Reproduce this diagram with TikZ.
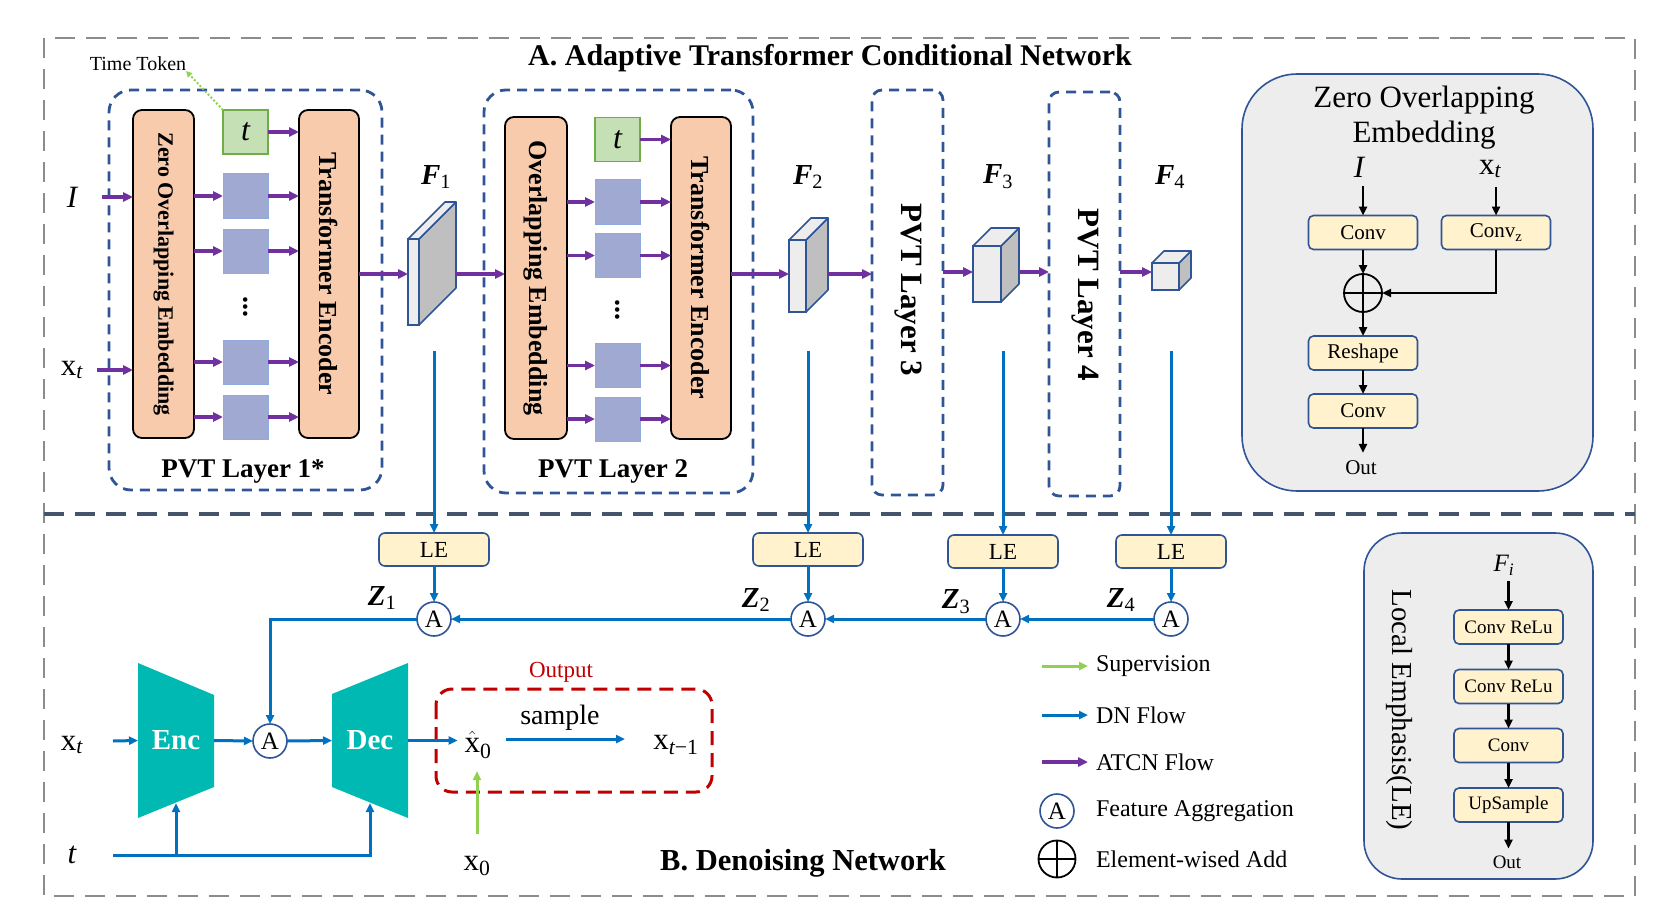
\documentclass[tikz,border=0pt]{standalone}
\usepackage{fontspec}
\setmainfont{Liberation Serif}
\usepackage{graphicx}
\usetikzlibrary{arrows.meta,calc}
\pgfdeclarelayer{bg}
\pgfsetlayers{bg,main}
\definecolor{purp}{HTML}{7030A0}
\definecolor{dnblue}{HTML}{0070C0}
\definecolor{bord}{HTML}{2F5597}
\definecolor{orng}{HTML}{F8CBAD}
\definecolor{sqc}{HTML}{A0A9D2}
\definecolor{sqb}{HTML}{8FAADC}
\definecolor{tgreen}{HTML}{C5E0B4}
\definecolor{tgb}{HTML}{70AD47}
\definecolor{yel}{HTML}{FFF2CC}
\definecolor{grayc}{HTML}{EDEDED}
\definecolor{tealc}{HTML}{00B9B2}
\definecolor{supg}{HTML}{92D050}
\definecolor{redc}{HTML}{C00000}
\definecolor{sepc}{HTML}{44546A}
\definecolor{outc}{HTML}{8C8C8C}
\definecolor{sidec}{HTML}{BFBFBF}
\definecolor{frontc}{HTML}{EDEDED}
\newcommand\fsz[2]{\fontsize{#1}{#2}\selectfont}
\newcommand\xt{x\textsubscript{\itshape t}}
\newcommand\mkcube[6]{%
 \node[cubef, minimum width={#4-#2}, minimum height={#5-#3}] (#1) at ({(#2+#4)/2},{(#3+#5)/2}) {};
 \filldraw[cubeside] (#1.north east) -- ++(#6,-#6) -- ++(0,{#5-#3}) -- (#1.south east) -- cycle;
 \filldraw[cubetop] (#1.north west) -- ++(#6,-#6) -- ++({#4-#2},0) -- (#1.north east) -- cycle;
 \coordinate (#1r) at ($(#1.east)+(#6,0)$);
}
\begin{document}
\begin{tikzpicture}[x=1pt,y=-1pt,
 every node/.style={inner sep=0pt, outer sep=0pt},
 purpA/.style={draw=purp, line width=3.3pt, -{Triangle[length=10pt,width=9pt]}},
 dnA/.style={draw=dnblue, line width=3pt, -{Triangle[length=9pt,width=8pt]}},
 blkA/.style={draw=black, line width=2.6pt, -{Triangle[length=9pt,width=8pt]}},
 supA/.style={draw=supg, line width=3pt, -{Triangle[length=9pt,width=8pt]}},
 pvtbox/.style={draw=bord, dash pattern=on 10pt off 7pt, line width=2.8pt, rounded corners=22pt},
 orbox/.style={draw=black, fill=orng, line width=1.8pt, rounded corners=9pt, font=\bfseries\fsz{26}{30}},
 sqbox/.style={draw=sqb, fill=sqc, line width=1pt, minimum width=45, minimum height=44},
 tbox/.style={draw=tgb, fill=tgreen, line width=1.2pt, minimum width=45, minimum height=44, font=\itshape\fsz{32}{34}},
 cubef/.style={draw=bord, fill=frontc, line width=1.6pt},
 cubeside/.style={draw=bord, fill=sidec, line width=1.6pt, line join=round},
 cubetop/.style={draw=bord, fill=frontc, line width=1.6pt, line join=round},
 lebox/.style={draw=bord, fill=yel, line width=1.6pt, rounded corners=6pt, minimum width=110, minimum height=33, font=\fsz{23}{26}},
 aggr/.style={circle, draw=bord, fill=white, line width=1.6pt, minimum size=34, font=\fsz{25}{26}},
 oplus/.style={circle, draw=black, line width=1.8pt, minimum size=37,
   path picture={\draw[line width=1.8pt] (path picture bounding box.north) -- (path picture bounding box.south)
     (path picture bounding box.west) -- (path picture bounding box.east);}},
 ybox/.style={draw=bord, fill=yel, line width=1.6pt, rounded corners=5pt, minimum width=109, minimum height=34, font=\fsz{21}{24}},
 lybox/.style={draw=bord, fill=yel, line width=1.6pt, rounded corners=5pt, minimum width=109, minimum height=34, font=\fsz{19}{23}},
 gbox/.style={draw=bord, fill=grayc, line width=1.6pt},
 lbl/.style={font=\fsz{31}{34}},
 flab/.style={font=\fsz{29}{32}},
 legtxt/.style={font=\fsz{24}{28}, anchor=west},
 trap/.style={minimum width=76, minimum height=155, font=\bfseries\fsz{29}{30}, text=white}
]
\useasboundingbox (0,0) rectangle (1656,920);

% frames
\draw[outc, line width=2.2pt, dash pattern=on 20pt off 11pt] (44,38) rectangle (1635,896);
\draw[sepc, line width=3.2pt, dash pattern=on 20pt off 11pt] (44,514) -- (1635,514);

\node[font=\bfseries\fsz{30}{34}] (titleA) at (830,58) {A. Adaptive Transformer Conditional Network};
\node[font=\bfseries\fsz{30.5}{34}] (titleB) at (803,863) {B. Denoising Network};

% ---------- PVT layer 1
\node[pvtbox, minimum width=273, minimum height=400] (pvt1) at (245.5,290) {};
\node[font=\bfseries\fsz{27}{30}] (pvt1l) at (243,471) {PVT Layer 1*};
\node[orbox, minimum width=61, minimum height=328, font=\bfseries\fsz{22}{24}] (zoe1) at (163.5,274) {\rotatebox{-90}{Zero Overlapping Embedding}};
\node[tbox] (t1) at (245.5,132) {t};
\node[sqbox] (s11) at (245.5,196) {};
\node[sqbox] (s12) at (245.5,251) {};
\node[sqbox] (s13) at (245.5,362) {};
\node[sqbox] (s14) at (245.5,417) {};
\node[font=\bfseries\fsz{28}{30}] (d1) at (245.5,307) {\rotatebox{90}{...}};
\node[orbox, minimum width=60, minimum height=328] (te1) at (329,274) {\rotatebox{-90}{Transformer Encoder}};

\node[lbl] (il) at (72,197) {\itshape I};
\node[lbl] (xl) at (72,370) {\xt};
\coordinate (iin) at (102,197);
\coordinate (xin) at (97,370);
\node[font=\fsz{20}{24}] (ttok) at (138,64) {Time Token};
\draw[supg, line width=2pt, dotted, -{Triangle[length=6pt,width=6pt]}] (t1.north west) -- (ttok.south east);

\draw[purpA] (iin) -- (iin -| zoe1.west);
\draw[purpA] (xin) -- (xin -| zoe1.west);
\draw[purpA] (t1.east) -- (t1.east -| te1.west);
\foreach \i in {1,2,3,4}{
  \draw[purpA] (zoe1.east |- s1\i.west) -- (s1\i.west);
  \draw[purpA] (s1\i.east) -- (s1\i.east -| te1.west);
}

% ---------- PVT layer 2
\node[pvtbox, minimum width=269, minimum height=403] (pvt2) at (618.5,291.5) {};
\node[font=\bfseries\fsz{27}{30}] (pvt2l) at (613,471) {PVT Layer 2};
\node[orbox, minimum width=62, minimum height=322] (oe2) at (536,278) {\rotatebox{-90}{Overlapping Embedding}};
\node[tbox] (t2) at (617.5,139.5) {t};
\node[sqbox] (s21) at (617.5,202) {};
\node[sqbox] (s22) at (617.5,255.5) {};
\node[sqbox] (s23) at (617.5,365.5) {};
\node[sqbox] (s24) at (617.5,419) {};
\node[font=\bfseries\fsz{28}{30}] (d2) at (617.5,310) {\rotatebox{90}{...}};
\node[orbox, minimum width=60, minimum height=322] (te2) at (701,278) {\rotatebox{-90}{Transformer Encoder}};
\draw[purpA] (t2.east) -- (t2.east -| te2.west);
\foreach \i in {1,2,3,4}{
  \draw[purpA] (oe2.east |- s2\i.west) -- (s2\i.west);
  \draw[purpA] (s2\i.east) -- (s2\i.east -| te2.west);
}

% ---------- PVT layers 3, 4
\node[pvtbox, rounded corners=10pt, minimum width=71, minimum height=405] (pvt3) at (907.5,292.5) {};
\node[font=\bfseries\fsz{31}{34}] (pvt3l) at (908,290) {\rotatebox{-90}{PVT Layer 3}};
\node[pvtbox, rounded corners=10pt, minimum width=71, minimum height=404] (pvt4) at (1084.5,294) {};
\node[font=\bfseries\fsz{31}{34}] (pvt4l) at (1085,295) {\rotatebox{-90}{PVT Layer 4}};

% ---------- cubes
\mkcube{f1}{408}{239}{419}{325}{37}
\mkcube{f2}{789}{240}{806}{312}{22}
\mkcube{f3}{973}{246}{1001}{302}{18}
\mkcube{f4}{1152}{263}{1179}{290}{12}
\node[flab] (fl1) at (436,177) {\bfseries\itshape F\textsubscript{\normalfont 1}};
\node[flab] (fl2) at (808,177) {\bfseries\itshape F\textsubscript{\normalfont 2}};
\node[flab] (fl3) at (998,177) {\bfseries\itshape F\textsubscript{\normalfont 3}};
\node[flab] (fl4) at (1170,177) {\bfseries\itshape F\textsubscript{\normalfont 4}};

\coordinate (flow) at (0,274);
\coordinate (flowb) at (0,272);
\draw[purpA] (te1.east |- flow) -- (f1.west |- flow);
\draw[purpA] (f1r |- flow) -- (oe2.west |- flow);
\draw[purpA] (te2.east |- flow) -- (f2.west |- flow);
\draw[purpA] (f2r |- flow) -- (pvt3.west |- flow);
\draw[purpA] (pvt3.east |- flowb) -- (f3.west |- flowb);
\draw[purpA] (f3r |- flowb) -- (pvt4.west |- flowb);
\draw[purpA] (pvt4.east |- flowb) -- (f4.west |- flowb);

% ---------- LE / aggregation row
\node[lebox] (le1) at (434,549.5) {LE};
\node[lebox] (le2) at (808,549.5) {LE};
\node[lebox] (le3) at (1003,551.5) {LE};
\node[lebox] (le4) at (1171,551.5) {LE};
\coordinate (v1) at (434,351);
\coordinate (v2) at (808,351);
\coordinate (v3) at (1003,351);
\coordinate (v4) at (1171,351);
\node[aggr] (a1) at (434,619) {A};
\node[aggr] (a2) at (808,619) {A};
\node[aggr] (a3) at (1003,619) {A};
\node[aggr] (a4) at (1171,619) {A};
\foreach \i in {1,2,3,4}{
  \draw[dnA] (v\i) -- (le\i.north);
  \draw[dnA] (le\i.south) -- (a\i.north);
}
\node[flab] (z1) at (382,598) {\bfseries\itshape Z\textsubscript{\normalfont 1}};
\node[flab] (z2) at (756,600) {\bfseries\itshape Z\textsubscript{\normalfont 2}};
\node[flab] (z3) at (956,602) {\bfseries\itshape Z\textsubscript{\normalfont 3}};
\node[flab] (z4) at (1121,600) {\bfseries\itshape Z\textsubscript{\normalfont 4}};
\draw[dnA] (a4.west) -- (a3.east);
\draw[dnA] (a3.west) -- (a2.east);
\draw[dnA] (a2.west) -- (a1.east);

% ---------- denoising network
\node[trap] (enc) at (176,740.5) {Enc};
\node[trap] (dec) at (370,740.5) {Dec};
\begin{pgfonlayer}{bg}
\fill[tealc] (enc.north west) -- ([yshift=-32pt]enc.north east) -- ([yshift=31pt]enc.south east) -- (enc.south west) -- cycle;
\fill[tealc] ([yshift=-31pt]dec.north west) -- (dec.north east) -- (dec.south east) -- ([yshift=31pt]dec.south west) -- cycle;
\end{pgfonlayer}
\node[aggr] (a0) at (270,741) {A};
\draw[dnA] (a1.west) -| (a0.north);

\node[lbl] (xb) at (72,745) {\xt};
\node[lbl] (tb) at (72,855) {\itshape t};
\coordinate (xin2) at (113,741);
\coordinate (tin) at (113,855);
\coordinate (encb) at (176,803);
\coordinate (decb) at (370,803);
\draw[dnA] (xin2) -- (enc.west);
\draw[dnA] (tin) -| (decb);
\draw[dnA] (encb |- tin) -- (encb);
\draw[dnA] (enc.east) -- (a0.west);
\draw[dnA] (a0.east) -- (dec.west);

\coordinate (obtl) at (436,689);
\coordinate (obbr) at (712,792);
\draw[redc, dash pattern=on 14pt off 8pt, line width=3pt, rounded corners=16pt] (obtl) rectangle (obbr);
\node[font=\fsz{23}{26}, text=redc] (outl) at (561,672) {Output};
\node[lbl] (xh) at (478,745) {$\hat{\textrm{x}}$\textsubscript{0}};
\node[font=\fsz{28}{32}] (samp) at (560,718) {sample};
\node[lbl] (xtm) at (676,745) {x\textsubscript{{\itshape t}−1}};
\node[lbl] (x0) at (477,866) {x\textsubscript{0}};
\coordinate (x0in) at (477,834);
\coordinate (x0top) at (477,771);
\coordinate (sst) at (506,739);
\coordinate (sen) at (625,739);
\draw[dnA, shorten >=7pt] (dec.east) -- (xh.west |- dec.east);
\draw[dnA] (sst) -- (sen);
\draw[supA] (x0in) -- (x0top);

% ---------- legend
\node[legtxt] (lt1) at (1096,666) {Supervision};
\node[legtxt] (lt2) at (1096,715) {DN Flow};
\node[legtxt] (lt3) at (1096,762) {ATCN Flow};
\node[legtxt] (lt4) at (1096,811) {Feature Aggregation};
\node[legtxt] (lt5) at (1096,859) {Element-wised Add};
\coordinate (lg1) at (1042,666);
\coordinate (lg2) at (1042,715);
\coordinate (lg3) at (1042,762);
\draw[supA, shorten >=8pt] (lg1) -- (lt1.west);
\draw[dnA, shorten >=8pt] (lg2) -- (lt2.west);
\draw[purpA, shorten >=8pt] (lg3) -- (lt3.west);
\node[aggr] (lga) at (1057,811) {A};
\node[oplus] (lgo) at (1057,859) {};

% ---------- Zero Overlapping Embedding inset
\node[gbox, rounded corners=55pt, minimum width=351, minimum height=417] (zoebig) at (1417.5,282.5) {};
\node[font=\fsz{31}{35}, align=center] (zoet) at (1424,118) {Zero Overlapping\\Embedding};
\node[lbl] (zi) at (1359,167) {\itshape I};
\node[lbl] (zx) at (1490,169) {\xt};
\node[ybox] (zc1) at (1363,232.5) {Conv};
\node[ybox] (zcz) at (1496,232.5) {Conv\textsubscript{z}};
\node[oplus, minimum size=38] (zop) at (1363,293) {};
\node[ybox] (zrs) at (1363,353) {Reshape};
\node[ybox] (zc2) at (1363,411) {Conv};
\node[font=\fsz{21}{24}] (zout) at (1361,468) {Out};
\draw[blkA, shorten <=9pt] (zc1.north |- zi.south) -- (zc1.north);
\draw[blkA, shorten <=9pt] (zcz.north |- zx.south) -- (zcz.north);
\draw[blkA] (zc1.south) -- (zop.north);
\draw[blkA] (zcz.south) |- (zop.east);
\draw[blkA] (zop.south) -- (zrs.north);
\draw[blkA] (zrs.south) -- (zc2.north);
\draw[blkA, shorten >=8pt] (zc2.south) -- (zc2.south |- zout.north);

% ---------- Local Emphasis inset
\node[gbox, rounded corners=38pt, minimum width=229, minimum height=346] (lebig) at (1478.5,706) {};
\node[font=\fsz{29}{32}, rotate=-90] (letitle) at (1399,710) {Local Emphasis(LE)};
\node[font=\itshape\fsz{25}{28}] (fi) at (1504,565) {F\textsubscript{i}};
\node[lybox] (lb1) at (1508.5,627) {Conv ReLu};
\node[lybox] (lb2) at (1508.5,686.5) {Conv ReLu};
\node[lybox] (lb3) at (1508.5,745.5) {Conv};
\node[lybox] (lb4) at (1508.5,805) {UpSample};
\node[font=\fsz{19}{23}] (leout) at (1507,862) {Out};
\draw[blkA, shorten <=6pt] (lb1.north |- fi.south) -- (lb1.north);
\draw[blkA] (lb1.south) -- (lb2.north);
\draw[blkA] (lb2.south) -- (lb3.north);
\draw[blkA] (lb3.south) -- (lb4.north);
\draw[blkA, shorten >=7pt] (lb4.south) -- (lb4.south |- leout.north);
\end{tikzpicture}
\end{document}
